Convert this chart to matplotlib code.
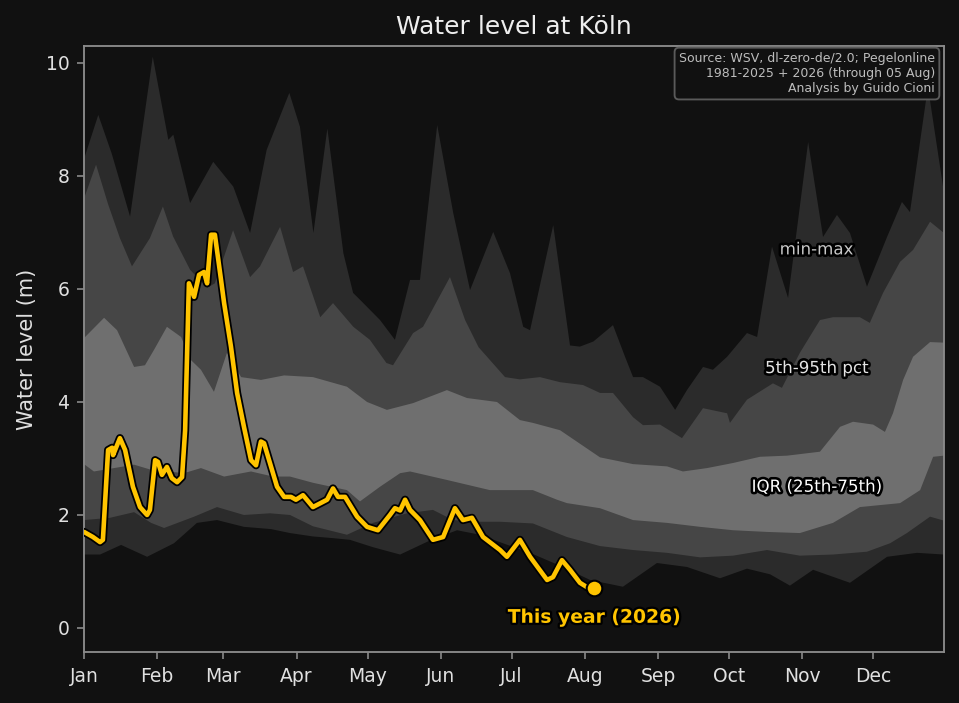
import matplotlib
matplotlib.use('Agg')
import matplotlib.pyplot as plt
import matplotlib.patheffects as pe

# ---------------- data (day of year, water level in m) ----------------
max_days = [1, 7.05, 12.7, 16.2, 20.5, 30.1, 36.7, 38.8, 45.9, 55.7, 64.2, 71.3, 78.3, 87.9, 92.4,
            98.1, 104, 110.8, 114.9, 117.8, 126.3, 132.6, 139, 143.2, 150.5, 157.3, 164.4, 174.2, 181.3,
            186.9, 189.8, 199.6, 206.7, 210.9, 216.6, 224.9, 230, 233.4, 237.6, 244.8, 251.2, 256.2,
            263, 267.2, 273.2, 281.6, 285.9, 292.2, 299, 307.5, 313.8, 319.7, 325.2, 332.4, 340.9,
            347.2, 350.6, 358.2, 365]
max_vals = [8.3, 9.08, 8.4, 7.9, 7.28, 10.11, 8.64, 8.73, 7.52, 8.25, 7.81, 6.99, 8.46, 9.47, 8.87,
            6.99, 8.84, 6.63, 5.93, 5.81, 5.45, 5.10, 6.16, 6.16, 8.90, 7.34, 5.98, 7.01, 6.28,
            5.33, 5.27, 7.13, 5.0, 4.98, 5.07, 5.36, 4.8, 4.44, 4.44, 4.27, 3.86, 4.21,
            4.62, 4.57, 4.8, 5.22, 5.15, 6.75, 5.84, 8.6, 6.92, 7.31, 6.99, 6.04, 6.92,
            7.54, 7.36, 9.58, 7.7]

p95_days = [1, 6.1, 11.2, 16.2, 21.3, 28.9, 34.4, 38.7, 45.9, 53.1, 56.4, 64.1, 71.3, 75.5, 84,
            89.5, 93.7, 101, 106.4, 115, 122, 129, 131.8, 140.3, 144.5, 155.9, 162.3, 168, 179.2,
            185.5, 194, 202.5, 212.2, 219.4, 224.9, 233.4, 237.6, 244.8, 254.1, 263, 273.2, 274.4,
            281.6, 292.6, 296.4, 304, 312.5, 318, 329.4, 333.6, 339.2, 346.4, 351.9, 359.1, 365]
p95_vals = [7.6, 8.2, 7.5, 6.9, 6.4, 6.9, 7.46, 6.93, 6.34, 6.02, 6.1, 7.04, 6.21, 6.4, 7.1,
            6.3, 6.4, 5.5, 5.75, 5.33, 5.1, 4.69, 4.65, 5.22, 5.33, 6.21, 5.45, 4.97, 4.44,
            4.4, 4.44, 4.35, 4.3, 4.16, 4.16, 3.73, 3.59, 3.6, 3.36, 3.89, 3.8, 3.63,
            4.04, 4.33, 4.25, 4.87, 5.45, 5.5, 5.5, 5.4, 5.93, 6.48, 6.69, 7.19, 6.99]

p75_days = [1, 9.5, 15, 22.2, 26.8, 30.6, 36.1, 42.1, 46.3, 50.5, 56, 61.5, 67.5, 75.9, 85.7,
            97.9, 112.3, 120.8, 129.2, 140.3, 154.6, 163.1, 175.8, 185.5, 191, 202.5, 219.4,
            233.4, 247.8, 254.5, 264.7, 275.7, 287.1, 298.6, 312.5, 321, 326.5, 335, 340,
            343.4, 347.7, 351.9, 359.1, 365]
p75_vals = [5.13, 5.49, 5.27, 4.62, 4.65, 4.92, 5.33, 5.15, 4.74, 4.57, 4.18, 4.87, 4.44, 4.39, 4.47,
            4.44, 4.27, 4.0, 3.86, 3.98, 4.21, 4.07, 4.0, 3.68, 3.63, 3.5, 3.02,
            2.9, 2.86, 2.77, 2.83, 2.92, 3.03, 3.05, 3.12, 3.56, 3.65, 3.6, 3.47,
            3.8, 4.39, 4.8, 5.06, 5.05]

p25_days = [1, 5.2, 22.2, 29.4, 43.3, 50.5, 60.3, 71.7, 81, 88.2, 97.9, 112.3, 117.8, 126.3,
            134.8, 139, 154.6, 172.8, 191, 201.2, 205.4, 219.4, 233.4, 247.8, 261.8, 275.7,
            290.1, 304, 318, 329.4, 346.4, 354.9, 360.4, 365]
p25_vals = [2.9, 2.77, 2.89, 2.8, 2.74, 2.83, 2.68, 2.77, 2.68, 2.68, 2.57, 2.44, 2.24, 2.5,
            2.74, 2.77, 2.62, 2.44, 2.44, 2.27, 2.21, 2.12, 1.91, 1.86, 1.79, 1.73,
            1.70, 1.68, 1.86, 2.14, 2.21, 2.44, 3.03, 3.05]

p5_days = [1, 12, 22.2, 29.4, 34.9, 47.6, 57.3, 68.7, 79.7, 88.2, 97.9, 112.3, 123.3, 137.7,
           148.7, 157.2, 168.6, 177.1, 191, 205.4, 219.4, 233.4, 247.8, 261.8, 275.7, 290.1,
           304, 318, 332.4, 342.2, 349.3, 359.1, 365]
p5_vals = [1.91, 1.95, 2.05, 1.86, 1.77, 1.97, 2.14, 2.0, 2.03, 2.0, 1.8, 1.65, 1.86, 2.03,
           2.09, 1.91, 1.88, 1.88, 1.85, 1.61, 1.45, 1.38, 1.33, 1.25, 1.28, 1.38,
           1.28, 1.3, 1.35, 1.5, 1.68, 1.97, 1.9]

min_days = [1, 7.8, 16.7, 27.7, 39.1, 48.8, 57.3, 68.7, 80.2, 88.2, 97.9, 106.4, 113.6, 123.3,
            134.8, 147.5, 158.9, 168.6, 178.3, 189.8, 203.7, 215.2, 229.1, 243.5, 256.2, 270.2,
            281.6, 291.4, 299.8, 309.6, 325.2, 340.9, 353.6, 365]
min_vals = [1.3, 1.3, 1.47, 1.26, 1.5, 1.86, 1.91, 1.79, 1.75, 1.68, 1.62, 1.59, 1.56, 1.43,
            1.3, 1.55, 1.73, 1.65, 1.5, 1.33, 1.08, 0.85, 0.73, 1.15, 1.08, 0.88,
            1.05, 0.95, 0.75, 1.03, 0.8, 1.26, 1.33, 1.3]

cur_days = [1, 4.8, 7.8, 9, 11.2, 12.9, 13.3, 16.2, 18.4, 21.7, 24.7, 27.7, 28.9, 31.1, 32.3, 34,
            36.1, 38.2, 40.4, 42.5, 43.8, 45.4, 47.6, 49.7, 51.8, 53.1, 54.8, 56.4, 59, 60.3,
            63.2, 65.8, 68.7, 71.7, 73.8, 75.9, 77.2, 80.2, 82.7, 85.7, 88.6, 90.7, 93.7, 97.9,
            103.9, 106.4, 108.5, 111.5, 116.6, 120.8, 125.4, 130.5, 132.6, 134.8, 136.9, 139,
            143.2, 148.7, 153, 158, 161.4, 165.2, 169.9, 177.1, 180, 185.5, 189.8, 197, 199.5,
            203.3, 206.7, 210.9, 214, 217]
cur_vals = [1.7, 1.61, 1.52, 1.56, 3.15, 3.19, 3.06, 3.36, 3.15, 2.5, 2.14, 2.0, 2.09, 2.97, 2.94, 2.71,
            2.85, 2.65, 2.58, 2.67, 3.5, 6.1, 5.86, 6.25, 6.3, 6.1, 6.96, 6.96, 6.16, 5.75,
            4.98, 4.16, 3.56, 2.97, 2.88, 3.3, 3.27, 2.85, 2.5, 2.32, 2.32, 2.27, 2.35, 2.14,
            2.27, 2.47, 2.32, 2.32, 1.97, 1.79, 1.73, 2.0, 2.12, 2.08, 2.27, 2.09,
            1.91, 1.56, 1.61, 2.12, 1.91, 1.95, 1.61, 1.38, 1.26, 1.56, 1.26, 0.85, 0.9,
            1.2, 1.03, 0.8, 0.72, 0.7]

month_days = [1, 32, 60, 91, 121, 152, 182, 213, 244, 274, 305, 335]
month_labels = ['Jan', 'Feb', 'Mar', 'Apr', 'May', 'Jun', 'Jul', 'Aug', 'Sep', 'Oct', 'Nov', 'Dec']
y_ticks = [0, 2, 4, 6, 8, 10]

# ---------------- figure ----------------
BG = '#111111'
fig = plt.figure(figsize=(959 / 150, 703 / 150), dpi=150, facecolor=BG)
ax = fig.add_axes([84 / 959, 1 - 652 / 703, (944 - 84) / 959, (652 - 46) / 703])
ax.set_facecolor(BG)


def band(ud, uv, ld, lv, color):
    xs = list(ud) + list(ld)[::-1]
    ys = list(uv) + list(lv)[::-1]
    ax.fill(xs, ys, color=color, lw=0, zorder=1)


band(max_days, max_vals, min_days, min_vals, '#2b2b2b')
band(p95_days, p95_vals, p5_days, p5_vals, '#464646')
band(p75_days, p75_vals, p25_days, p25_vals, '#6f6f6f')

stroke = [pe.withStroke(linewidth=2.5, foreground='black')]
ax.text(311, 6.7, 'min-max', color='#c8c8c8', fontsize=8, ha='center', va='center',
        path_effects=stroke, zorder=4)
ax.text(311, 4.6, '5th-95th pct', color='#e4e4e4', fontsize=8, ha='center', va='center',
        path_effects=stroke, zorder=4)
ax.text(311, 2.5, 'IQR (25th-75th)', color='#ffffff', fontsize=8, ha='center', va='center',
        path_effects=stroke, zorder=4)

YEL = '#ffc400'
ax.plot(cur_days, cur_vals, color=YEL, lw=2.2, solid_joinstyle='round', solid_capstyle='round',
        path_effects=[pe.Stroke(linewidth=3.9, foreground='black'), pe.Normal()], zorder=5)
ax.plot([cur_days[-1]], [cur_vals[-1]], 'o', ms=7.5, color=YEL, mec='black', mew=1.0, zorder=6)
ax.text(cur_days[-1], 0.19, 'This year (2026)', color=YEL, fontsize=9, fontweight='bold',
        ha='center', va='center', path_effects=[pe.withStroke(linewidth=2.2, foreground='black')],
        zorder=6)

ax.text(0.9895, 0.99, 'Source: WSV, dl-zero-de/2.0; Pegelonline\n1981-2025 + 2026 (through 05 Aug)\nAnalysis by Guido Cioni',
        transform=ax.transAxes, ha='right', va='top', fontsize=6, color='#bdbdbd',
        bbox=dict(boxstyle='round,pad=0.35', fc=BG, ec='#5a5a5a', lw=0.9), zorder=7)

ax.set_xlim(1, 365)
ax.set_ylim(-0.425, 10.3)
ax.set_xticks(month_days)
ax.set_xticklabels(month_labels)
ax.set_yticks(y_ticks)
ax.set_yticklabels([str(v) for v in y_ticks])
ax.tick_params(colors='#e0e0e0', labelsize=9, color='#8a8a8a')
for s in ax.spines.values():
    s.set_color('#8a8a8a')
    s.set_linewidth(0.9)
ax.set_ylabel('Water level (m)', color='#e0e0e0', fontsize=10)
ax.set_title('Water level at Köln', color='#eeeeee', fontsize=12)

fig.savefig('out.png', dpi=150, facecolor=BG)
